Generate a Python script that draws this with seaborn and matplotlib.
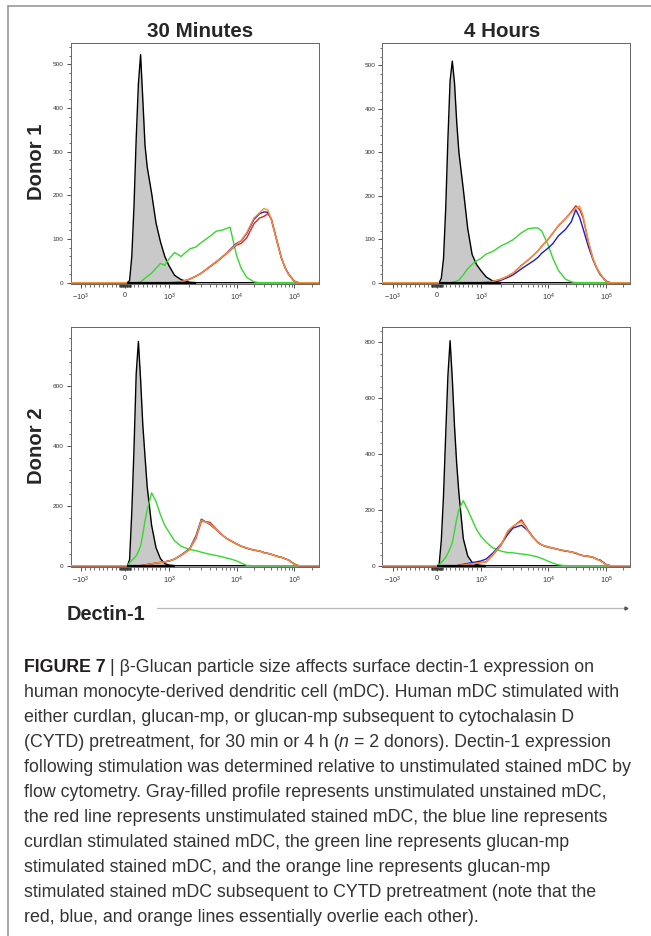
import numpy as np
import pandas as pd
import matplotlib
matplotlib.use("Agg")
import matplotlib.pyplot as plt
import seaborn as sns
from matplotlib import font_manager
from matplotlib.lines import Line2D

# Dectin-1 fluorescence (shared channel grid for every histogram)
X = [-2000, -1000, 0,
     50, 100, 150, 200, 250, 300, 350, 400, 450, 500,
     600, 700, 800, 900, 1000, 1200, 1500,
     2000, 2500, 3000, 4000, 5000, 6000, 7000, 8000,
     10000, 12000, 15000, 20000, 25000, 30000, 35000, 40000,
     50000, 60000, 70000, 80000, 100000, 120000, 262000]

# Donor 1 - 30 minutes
d1_30m_unstained = [0, 0, 0,
                    0, 5, 60, 175, 330, 455, 522, 420, 315, 265,
                    205, 137, 94, 60, 38, 17, 7,
                    1, 0, 0, 0, 0, 0, 0, 0,
                    0, 0, 0, 0, 0, 0, 0, 0,
                    0, 0, 0, 0, 0, 0, 0]
d1_30m_glucan = [0, 0, 0,
                 0, 0, 0, 0, 0, 0, 2, 6, 10, 14,
                 22, 33, 44, 40, 55, 69, 60,
                 77, 82, 92, 106, 118, 120, 124, 127,
                 62, 33, 12, 2, 0, 0, 0, 0,
                 0, 0, 0, 0, 0, 0, 0]
d1_30m_curdlan = [0, 0, 0,
                  0, 0, 0, 0, 0, 0, 0, 0, 0, 0,
                  0, 0, 0, 0, 0, 0, 2,
                  8, 15, 22, 37, 48, 58, 67, 76,
                  90, 96, 113, 145, 158, 162, 161, 145,
                  95, 56, 33, 19, 3, 0, 0]
d1_30m_unstim = [0, 0, 0,
                 0, 0, 0, 0, 0, 0, 0, 0, 0, 0,
                 0, 0, 0, 0, 0, 0, 2,
                 8, 15, 22, 36, 47, 57, 66, 74,
                 86, 90, 103, 135, 148, 152, 158, 147,
                 97, 57, 34, 20, 4, 0, 0]
d1_30m_cytd = [0, 0, 0,
               0, 0, 0, 0, 0, 0, 0, 0, 0, 0,
               0, 0, 0, 0, 0, 1, 2,
               8, 15, 22, 37, 48, 58, 67, 75,
               88, 97, 115, 148, 160, 170, 166, 145,
               95, 56, 33, 19, 3, 0, 0]

# Donor 1 - 4 hours
d1_4h_unstained = [0, 0, 0,
                   0, 10, 55, 170, 330, 465, 510, 460, 370, 300,
                   215, 125, 65, 42, 28, 13, 4,
                   0, 0, 0, 0, 0, 0, 0, 0,
                   0, 0, 0, 0, 0, 0, 0, 0,
                   0, 0, 0, 0, 0, 0, 0]
d1_4h_glucan = [0, 0, 0,
                0, 0, 0, 0, 0, 0, 1, 2, 4, 6,
                18, 32, 42, 50, 56, 66, 72,
                85, 92, 99, 115, 124, 126, 126, 119,
                86, 56, 28, 8, 2, 0, 0, 0,
                0, 0, 0, 0, 0, 0, 0]
d1_4h_curdlan = [0, 0, 0,
                 0, 0, 0, 0, 0, 0, 0, 0, 0, 0,
                 0, 0, 0, 0, 0, 0, 2,
                 6, 12, 18, 32, 42, 50, 58, 68,
                 80, 90, 108, 123, 140, 168, 150, 125,
                 82, 52, 32, 18, 4, 0, 0]
d1_4h_unstim = [0, 0, 0,
                0, 0, 0, 0, 0, 0, 0, 0, 0, 0,
                0, 0, 0, 0, 0, 1, 3,
                8, 15, 22, 40, 52, 63, 73, 84,
                100, 114, 131, 148, 163, 177, 168, 150,
                92, 54, 33, 20, 3, 0, 0]
d1_4h_cytd = [0, 0, 0,
              0, 0, 0, 0, 0, 0, 0, 0, 0, 0,
              0, 0, 0, 0, 0, 1, 3,
              8, 15, 22, 39, 52, 63, 73, 85,
              101, 115, 132, 148, 161, 172, 176, 155,
              93, 54, 33, 20, 3, 0, 0]

# Donor 2 - 30 minutes
d2_30m_unstained = [0, 0, 0,
                    0, 20, 180, 390, 640, 748, 620, 470, 365, 263,
                    135, 60, 24, 7, 2, 0, 0,
                    0, 0, 0, 0, 0, 0, 0, 0,
                    0, 0, 0, 0, 0, 0, 0, 0,
                    0, 0, 0, 0, 0, 0, 0]
d2_30m_glucan = [0, 0, 0,
                 1, 10, 18, 25, 33, 47, 66, 105, 150, 186,
                 243, 214, 170, 134, 111, 83, 65,
                 54, 50, 45, 38, 34, 30, 26, 23,
                 16, 9, 1, 0, 0, 0, 0, 0,
                 0, 0, 0, 0, 0, 0, 0]
d2_30m_curdlan = [0, 0, 0,
                  0, 0, 0, 0, 0, 0, 0, 1, 2, 4,
                  6, 9, 11, 13, 16, 22, 36,
                  56, 100, 155, 138, 120, 104, 92, 84,
                  72, 65, 58, 52, 49, 44, 41, 38,
                  32, 28, 23, 19, 6, 0, 0]
d2_30m_unstim = [0, 0, 0,
                 0, 0, 0, 0, 0, 0, 0, 1, 2, 4,
                 6, 9, 11, 13, 16, 22, 34,
                 54, 92, 148, 145, 122, 104, 92, 85,
                 73, 65, 59, 52, 49, 43, 41, 38,
                 31, 28, 23, 19, 5, 0, 0]
d2_30m_cytd = [0, 0, 0,
               0, 0, 0, 0, 0, 0, 0, 1, 2, 4,
               6, 9, 11, 13, 16, 22, 35,
               55, 95, 152, 140, 121, 104, 92, 84,
               72, 65, 59, 52, 49, 43, 41, 38,
               31, 28, 23, 19, 5, 0, 0]

# Donor 2 - 4 hours
d2_4h_unstained = [0, 0, 0,
                   2, 90, 250, 470, 680, 806, 670, 500, 365, 260,
                   97, 35, 12, 4, 1, 0, 0,
                   0, 0, 0, 0, 0, 0, 0, 0,
                   0, 0, 0, 0, 0, 0, 0, 0,
                   0, 0, 0, 0, 0, 0, 0]
d2_4h_glucan = [0, 0, 0,
                3, 12, 20, 30, 45, 62, 82, 123, 168, 200,
                233, 200, 165, 130, 105, 84, 64,
                52, 47, 46, 42, 39, 35, 31, 26,
                16, 9, 3, 0, 0, 0, 0, 0,
                0, 0, 0, 0, 0, 0, 0]
d2_4h_curdlan = [0, 0, 0,
                 0, 0, 0, 0, 0, 0, 0, 0, 0, 2,
                 5, 8, 11, 14, 17, 24, 45,
                 78, 112, 135, 145, 125, 100, 84, 74,
                 66, 63, 58, 52, 50, 44, 40, 36,
                 33, 30, 23, 20, 5, 0, 0]
d2_4h_unstim = [0, 0, 0,
                0, 0, 0, 0, 0, 0, 0, 0, 0, 1,
                3, 5, 7, 9, 11, 14, 38,
                74, 122, 140, 164, 128, 101, 83, 74,
                67, 63, 58, 53, 49, 46, 39, 36,
                34, 30, 23, 18, 4, 0, 0]
d2_4h_cytd = [0, 0, 0,
              0, 0, 0, 0, 0, 0, 0, 0, 0, 1,
              3, 5, 7, 9, 11, 14, 40,
              76, 125, 142, 158, 125, 100, 82, 74,
              67, 63, 58, 53, 49, 46, 39, 36,
              34, 30, 23, 18, 4, 0, 0]

SAMPLES = ["glucan-mp", "curdlan", "unstimulated", "glucan-mp + CYTD"]
PALETTE = {"glucan-mp": "#35d92e", "curdlan": "#1b1bd0",
           "unstimulated": "#e4231c", "glucan-mp + CYTD": "#f3933a"}

COL_TITLES = ["30 Minutes", "4 Hours"]
ROW_TITLES = ["Donor 1", "Donor 2"]
X_TICKS = [-1000, 0, 1000, 10000, 100000]
X_TICKLABELS = [r"$-10^3$", "0", r"$10^3$", r"$10^4$", r"$10^5$"]

CAPTION = [
    [("FIGURE 7", "bold", "normal"),
     (" | \u03b2-Glucan particle size affects surface dectin-1 expression on", "normal", "normal")],
    [("human monocyte-derived dendritic cell (mDC). Human mDC stimulated with", "normal", "normal")],
    [("either curdlan, glucan-mp, or glucan-mp subsequent to cytochalasin D", "normal", "normal")],
    [("(CYTD) pretreatment, for 30 min or 4 h (", "normal", "normal"), ("n", "normal", "italic"),
     (" = 2 donors). Dectin-1 expression", "normal", "normal")],
    [("following stimulation was determined relative to unstimulated stained mDC by", "normal", "normal")],
    [("flow cytometry. Gray-filled profile represents unstimulated unstained mDC,", "normal", "normal")],
    [("the red line represents unstimulated stained mDC, the blue line represents", "normal", "normal")],
    [("curdlan stimulated stained mDC, the green line represents glucan-mp", "normal", "normal")],
    [("stimulated stained mDC, and the orange line represents glucan-mp", "normal", "normal")],
    [("stimulated stained mDC subsequent to CYTD pretreatment (note that the", "normal", "normal")],
    [("red, blue, and orange lines essentially overlie each other).", "normal", "normal")],
]

W, H = 651, 936


def pick_font(names):
    for n in names:
        try:
            font_manager.findfont(font_manager.FontProperties(family=n), fallback_to_default=False)
            return n
        except Exception:
            pass
    return "DejaVu Sans"


sns.set_theme(style="ticks")
BASE = pick_font(["Liberation Sans", "Arial"])
plt.rcParams.update({
    "font.family": [BASE, "DejaVu Sans"],
    "mathtext.fontset": "custom",
    "mathtext.rm": BASE,
    "mathtext.it": BASE + ":italic",
    "mathtext.bf": BASE + ":bold",
})

# logicle-like display axis: linear around zero, log above 10^3
U_ANCH = [-20, -1, 0, 1, 2, 3, 20]
P_ANCH = [-1129.7, 10.3, 54.6, 98.6, 166.0, 223.6, 1202.8]


def fwd(x):
    x = np.asarray(x, dtype=float)
    a = np.abs(x)
    u = np.where(a <= 1000, x / 1000.0, np.sign(x) * (1 + np.log10(np.maximum(a, 1000) / 1000.0)))
    return np.interp(u, U_ANCH, P_ANCH)


def inv(p):
    u = np.interp(np.asarray(p, dtype=float), P_ANCH, U_ANCH)
    return np.where(np.abs(u) <= 1, u * 1000.0, np.sign(u) * 1000.0 * 10 ** (np.abs(u) - 1))


def fx(px):
    return px / W


def fy(py):
    return 1 - py / H


fig = plt.figure(figsize=(W / 100, H / 100), dpi=100)
fig.patch.set_facecolor("white")

panels = [
    # left px, top px, bottom px, data, ylim, major, minor step
    (70.6, 43.3, 283.7, (d1_30m_unstained, d1_30m_glucan, d1_30m_curdlan, d1_30m_unstim, d1_30m_cytd),
     (-2.3, 548), [0, 100, 200, 300, 400, 500], 20),
    (382.3, 43.3, 283.7, (d1_4h_unstained, d1_4h_glucan, d1_4h_curdlan, d1_4h_unstim, d1_4h_cytd),
     (-2.3, 551), [0, 100, 200, 300, 400, 500], 20),
    (70.6, 327.3, 566.7, (d2_30m_unstained, d2_30m_glucan, d2_30m_curdlan, d2_30m_unstim, d2_30m_cytd),
     (-3.3, 795), [0, 200, 400, 600], 40),
    (382.3, 327.3, 566.7, (d2_4h_unstained, d2_4h_glucan, d2_4h_curdlan, d2_4h_unstim, d2_4h_cytd),
     (-3.6, 854), [0, 200, 400, 600, 800], 40),
]

x_minor = ([-v for v in range(100, 1000, 100)] + list(range(-130, 131, 10)) + list(range(100, 1000, 100))
           + list(range(2000, 10000, 1000)) + list(range(20000, 100000, 10000)) + [200000])

for left, top, bottom, series, ylim, ymajor, ystep in panels:
    ax = fig.add_axes([fx(left), fy(bottom), 248.0 / W, (bottom - top) / H])
    unst, glucan, curdlan, unstim, cytd = series
    ax.fill_between(X, unst, 0, color="#c9c9c9", lw=0, zorder=1)
    ax.plot(X, unst, color="black", lw=1.0, zorder=2)
    df = pd.DataFrame({
        "x": X * 4,
        "count": glucan + curdlan + unstim + cytd,
        "sample": sum([[s] * len(X) for s in SAMPLES], []),
    })
    sns.lineplot(data=df, x="x", y="count", hue="sample", hue_order=SAMPLES, palette=PALETTE,
                 estimator=None, sort=False, legend=False, lw=1.0, ax=ax, zorder=3)
    # unstained profile's baseline stays dark on top of the coloured lines
    nz = [i for i, v in enumerate(unst) if v > 0]
    lo, hi = max(nz[0] - 1, 0), min(nz[-1] + 1, len(X) - 1)
    ax.plot([X[lo], X[hi]], [0, 0], color="black", lw=1.6, zorder=4, solid_capstyle="butt")
    ax.set_xscale("function", functions=(fwd, inv))
    ax.set_xlim(float(inv(0.0)), float(inv(248.0)))
    ax.set_ylim(*ylim)
    ax.set_xlabel("")
    ax.set_ylabel("")
    ax.set_xticks(X_TICKS)
    ax.set_xticklabels(X_TICKLABELS)
    ax.set_xticks(x_minor, minor=True)
    ax.set_yticks(ymajor)
    ax.set_yticks([v for v in range(ystep, int(ylim[1]), ystep) if v not in ymajor], minor=True)
    ax.tick_params(axis="both", which="major", direction="out", length=3, width=0.6,
                   color="#333333", labelsize=4.6, labelcolor="#333333", pad=2)
    ax.tick_params(axis="x", which="major", labelsize=5.2, pad=3)
    ax.tick_params(axis="both", which="minor", direction="out", length=1.8, width=0.5, color="#333333")
    for sp in ax.spines.values():
        sp.set_color("#666666")
        sp.set_linewidth(0.7)
    ax.set_facecolor("white")

# column and row headers
fig.text(fx(200), fy(36.7), COL_TITLES[0], fontsize=14.8, fontweight="bold", ha="center", va="baseline")
fig.text(fx(501.7), fy(36.7), COL_TITLES[1], fontsize=14.8, fontweight="bold", ha="center", va="baseline")
fig.text(fx(36), fy(162), ROW_TITLES[0], fontsize=14.6, fontweight="bold", rotation=90, ha="center", va="center")
fig.text(fx(36.5), fy(446), ROW_TITLES[1], fontsize=14.6, fontweight="bold", rotation=90, ha="center", va="center")

# axis label with long arrow
fig.text(fx(66.7), fy(620), "Dectin-1", fontsize=14.4, fontweight="bold", ha="left", va="baseline")
fig.add_artist(Line2D([fx(157), fx(625)], [fy(607.5), fy(607.5)], transform=fig.transFigure,
                      color="#b8b8b8", lw=0.9))
fig.add_artist(Line2D([fx(625.5)], [fy(607.5)], transform=fig.transFigure, marker=">",
                      ms=2.2, color="#555555", lw=0))

# frame lines
fig.add_artist(Line2D([fx(8.3), 1.0], [fy(6), fy(6)], transform=fig.transFigure, color="#8f8f8f", lw=1.1))
fig.add_artist(Line2D([fx(8.3), fx(8.3)], [fy(6), 0.0], transform=fig.transFigure, color="#8f8f8f", lw=1.1))

# caption
renderer = fig.canvas.get_renderer()
probe = fig.text(0, 0, CAPTION[4][0][0], fontsize=10)
w10 = probe.get_window_extent(renderer).width
probe.remove()
cap_size = 10 * 611.0 / w10
p1 = fig.text(0, 0, "a a", fontsize=cap_size)
p2 = fig.text(0, 0, "aa", fontsize=cap_size)
space_w = p1.get_window_extent(renderer).width - p2.get_window_extent(renderer).width
p1.remove()
p2.remove()

for i, line in enumerate(CAPTION):
    xpos = 23.5
    ypos = 671.5 + i * 25.1
    for text, weight, style in line:
        if text.startswith(" "):
            xpos += space_w
            text = text.lstrip()
        t = fig.text(fx(xpos), fy(ypos), text, fontsize=cap_size, fontweight=weight, fontstyle=style,
                     color="#231f20" if weight == "bold" else "#333333", ha="left", va="baseline")
        xpos += t.get_window_extent(renderer).width

fig.savefig("out.png", dpi=100, facecolor="white")
